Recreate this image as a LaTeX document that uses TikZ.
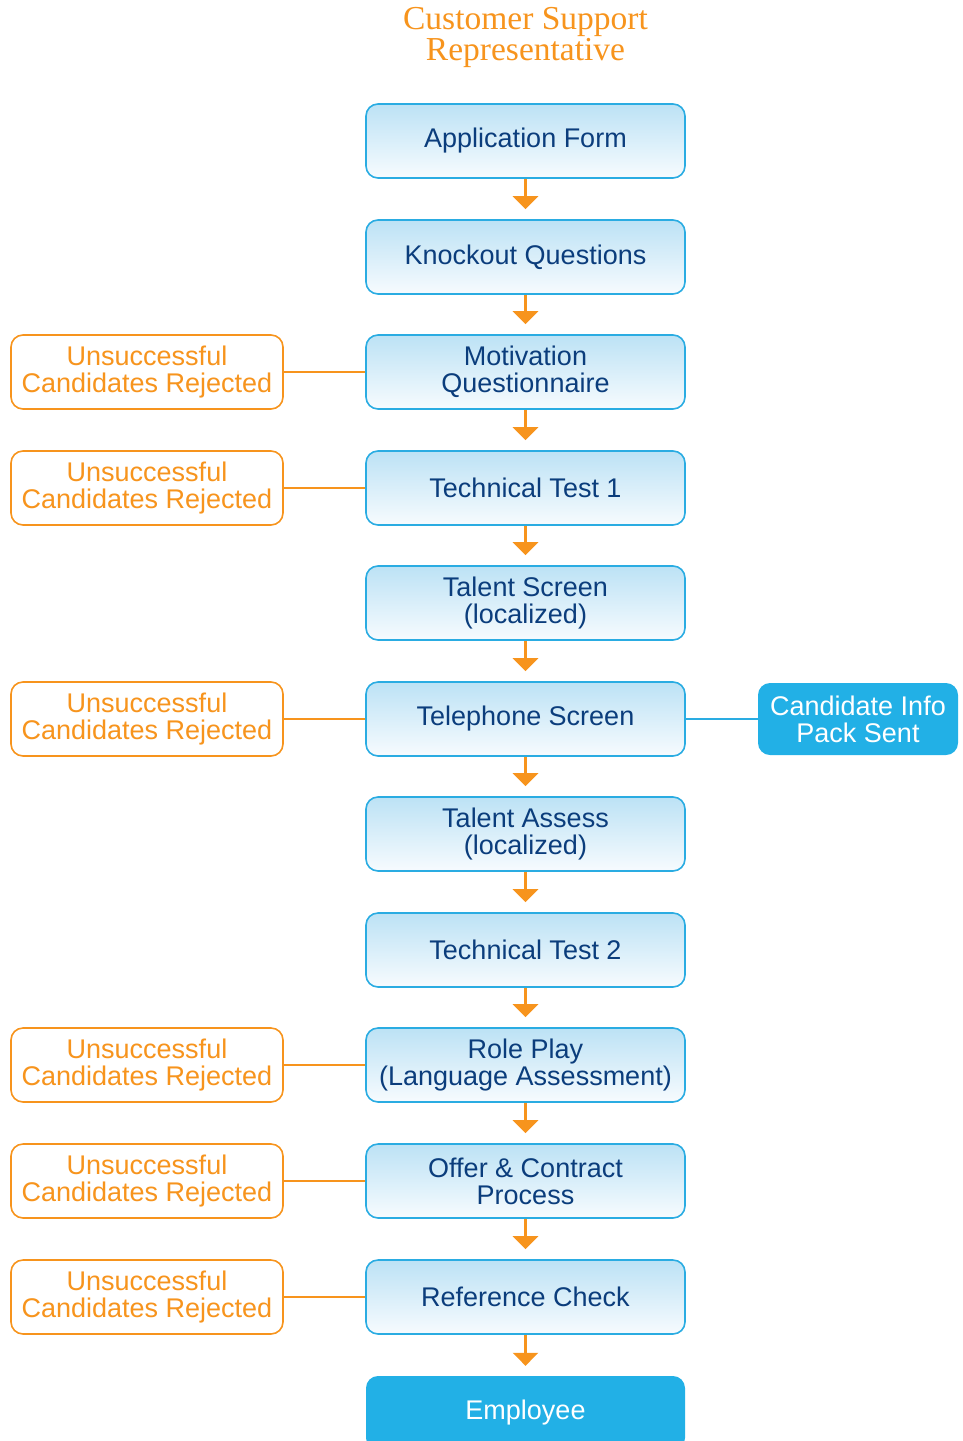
\documentclass[tikz,border=0pt]{standalone}
\usepackage{fontspec}
\setmainfont{Liberation Sans}
\newfontfamily\titlefont{Liberation Serif}
\usetikzlibrary{arrows.meta,shadings}
\definecolor{navy}{HTML}{0B3D7C}
\definecolor{boxblue}{HTML}{2AACE2}
\definecolor{fillblue}{HTML}{22B0E6}
\definecolor{orng}{HTML}{F7941D}
\definecolor{topfill}{HTML}{BCE2F5}
\definecolor{botfill}{HTML}{F7FBFE}
\tikzset{
  mainbox/.style={draw=boxblue, line width=1.6pt, rounded corners=12pt,
    top color=topfill, bottom color=botfill, minimum width=319pt, minimum height=74pt,
    inner sep=0pt, align=center, text=navy, font=\fontsize{27}{27}\selectfont},
  rejbox/.style={draw=orng, line width=1.6pt, rounded corners=12pt, fill=white,
    minimum width=272pt, minimum height=74pt, inner sep=0pt, align=center, text=orng,
    font=\fontsize{27}{27}\selectfont},
  solidbox/.style={fill=fillblue, rounded corners=12pt, minimum width=319pt, minimum height=74pt,
    inner sep=0pt, align=center, text=white, font=\fontsize{27}{27}\selectfont},
  flow/.style={draw=orng, line width=3pt, -{Triangle[width=25pt,length=13pt]}, shorten >=10pt},
  rejline/.style={draw=orng, line width=1.6pt},
  infoline/.style={draw=boxblue, line width=1.6pt}
}
\begin{document}
\begin{tikzpicture}[x=1pt,y=-1pt]
\useasboundingbox (0,0) rectangle (963,1441);
\begin{scope}
\clip (0,0) rectangle (963,1441);
\node[text=orng, align=center, font=\titlefont\fontsize{33.5}{29}\selectfont] (title) at (525.5,37.5) {Customer Support\\Representative};
\node[mainbox] (m1) at (525.5,141) {Application Form};
\node[mainbox] (m2) at (525.5,257) {Knockout Questions};
\node[mainbox] (m3) at (525.5,372) {Motivation\\Questionnaire};
\node[mainbox] (m4) at (525.5,488) {Technical Test 1};
\node[mainbox] (m5) at (525.5,603) {Talent Screen\\(localized)};
\node[mainbox] (m6) at (525.5,719) {Telephone Screen};
\node[mainbox] (m7) at (525.5,834) {Talent Assess\\(localized)};
\node[mainbox] (m8) at (525.5,950) {Technical Test 2};
\node[mainbox] (m9) at (525.5,1065) {Role Play\\(Language Assessment)};
\node[mainbox] (m10) at (525.5,1181) {Offer \& Contract\\Process};
\node[mainbox] (m11) at (525.5,1297) {Reference Check};
\node[solidbox] (m12) at (525.5,1413) {Employee};

\node[rejbox] (r3) at (147,372) {Unsuccessful\\Candidates Rejected};
\node[rejbox] (r4) at (147,488) {Unsuccessful\\Candidates Rejected};
\node[rejbox] (r6) at (147,719) {Unsuccessful\\Candidates Rejected};
\node[rejbox] (r9) at (147,1065) {Unsuccessful\\Candidates Rejected};
\node[rejbox] (r10) at (147,1181) {Unsuccessful\\Candidates Rejected};
\node[rejbox] (r11) at (147,1297) {Unsuccessful\\Candidates Rejected};

\node[solidbox, minimum width=200pt, minimum height=72pt] (info) at (858,719) {Candidate Info\\Pack Sent};

\foreach \a/\b in {m1/m2,m2/m3,m3/m4,m4/m5,m5/m6,m6/m7,m7/m8,m8/m9,m9/m10,m10/m11,m11/m12}
  \draw[flow] (\a.south) -- (\b.north);
\foreach \r/\m in {r3/m3,r4/m4,r6/m6,r9/m9,r10/m10,r11/m11}
  \draw[rejline] (\r.east) -- (\m.west);
\draw[infoline] (m6.east) -- (info.west);
\end{scope}
\end{tikzpicture}
\end{document}
